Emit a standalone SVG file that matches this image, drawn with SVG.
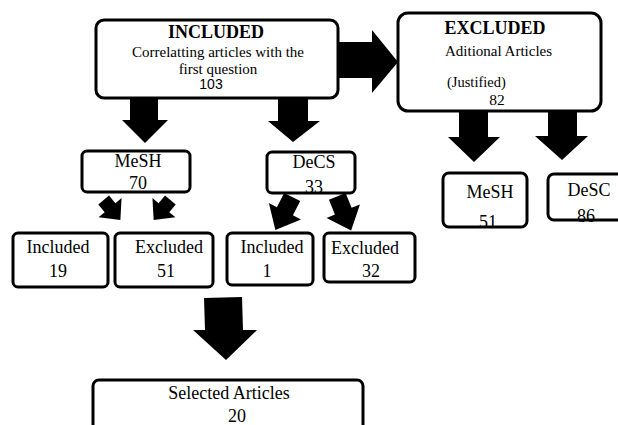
<svg xmlns="http://www.w3.org/2000/svg" width="618" height="425" viewBox="0 0 618 425">
<style>
.bg{fill:#fff;stroke:none}
.fr{fill:none;stroke:#000;stroke-width:3}
.t{font-family:"Liberation Serif","Times New Roman",serif;fill:#000;text-anchor:middle}
.st{text-anchor:start}
.s{font-family:"Liberation Sans",Arial,sans-serif;fill:#000;text-anchor:middle}
.b{font-weight:bold}
.ar{fill:#000;stroke:none}
</style>
<rect width="618" height="425" fill="#fff"/>
<g id="connectors">
<polygon class="ar" points="130,98 158,98 158,120 168,120 145,143 122,120 130,120"/>
<polygon class="ar" points="278,98 308,98 308,121 320,121 293,142 268,121 278,121"/>
<polygon class="ar" points="338,42 372,42 372,30 398,62 372,93 372,78 338,78"/>
<polygon class="ar" points="459,110 488,110 488,137 500,137 474,162 448,137 459,137"/>
<polygon class="ar" points="548,110 577,110 577,136 588,136 562,160 535,136 548,136"/>
<polygon class="ar" points="204,298 242,297 243,330 257,330 226,360 193,330 205,330"/>
<polygon class="ar" transform="translate(112,210) rotate(-40)" points="-7,-13 7,-13 7,-3 15,-3 0,13 -15,-3 -7,-3"/>
<polygon class="ar" transform="translate(162,210) rotate(40)" points="-7,-13 7,-13 7,-3 15,-3 0,13 -15,-3 -7,-3"/>
<polygon class="ar" transform="translate(284,213) rotate(27)" points="-9,-18 9,-18 9,-2 18,-2 0,19 -18,-2 -9,-2"/>
<polygon class="ar" transform="translate(344,213) rotate(-22)" points="-9,-18 9,-18 9,-2 18,-2 0,19 -18,-2 -9,-2"/>
</g>
<g id="included">
<rect class="bg" x="96" y="20" width="242" height="78" rx="8"/>
<text class="t b" x="216" y="38" font-size="18">INCLUDED</text>
<text class="t" x="218" y="57" font-size="15">Correlatting articles with the</text>
<text class="t" x="218" y="74" font-size="15">first question</text>
<text class="s" x="211" y="89" font-size="14">103</text>
<rect class="fr" x="96" y="20" width="242" height="78" rx="8"/>
</g>
<g id="excluded">
<rect class="bg" x="398" y="13" width="203" height="98" rx="10"/>
<text class="t b" x="495" y="34" font-size="18">EXCLUDED</text>
<text class="t st" x="445" y="56" font-size="15">Aditional Articles</text>
<text class="t st" x="447" y="87" font-size="14.5">(Justified)</text>
<text class="t" x="497" y="105" font-size="15.5">82</text>
<rect class="fr" x="398" y="13" width="203" height="98" rx="10"/>
</g>
<g id="mesh1">
<rect class="bg" x="82" y="151" width="108" height="41" rx="5"/>
<text class="t" x="138" y="167" font-size="18">MeSH</text>
<text class="t" x="138" y="189" font-size="18">70</text>
<rect class="fr" x="82" y="151" width="108" height="41" rx="5"/>
</g>
<g id="decs1">
<rect class="bg" x="267" y="152" width="88" height="41" rx="5"/>
<text class="t" x="314" y="168" font-size="18">DeCS</text>
<text class="t" x="314" y="193" font-size="18">33</text>
<rect class="fr" x="267" y="152" width="88" height="41" rx="5"/>
</g>
<g id="mesh2">
<rect class="bg" x="443" y="173" width="84" height="54" rx="6"/>
<text class="t" x="490" y="198" font-size="18">MeSH</text>
<text class="t" x="488" y="228" font-size="18">51</text>
<rect class="fr" x="443" y="173" width="84" height="54" rx="6"/>
</g>
<g id="desc2">
<rect class="bg" x="548" y="174" width="80" height="46" rx="6"/>
<text class="t" x="589" y="196" font-size="18">DeSC</text>
<text class="t" x="586" y="222" font-size="18">86</text>
<rect class="fr" x="548" y="174" width="80" height="46" rx="6"/>
</g>
<g id="inc19">
<rect class="bg" x="13" y="233" width="95" height="54" rx="5"/>
<text class="t" x="58" y="253" font-size="18">Included</text>
<text class="t" x="58" y="277" font-size="18">19</text>
<rect class="fr" x="13" y="233" width="95" height="54" rx="5"/>
</g>
<g id="exc51">
<rect class="bg" x="115" y="233" width="98" height="54" rx="5"/>
<text class="t" x="169" y="253" font-size="18">Excluded</text>
<text class="t" x="166" y="277" font-size="18">51</text>
<rect class="fr" x="115" y="233" width="98" height="54" rx="5"/>
</g>
<g id="inc1">
<rect class="bg" x="227" y="233" width="86" height="52" rx="5"/>
<text class="t" x="272" y="253" font-size="18">Included</text>
<text class="t" x="267" y="277" font-size="18">1</text>
<rect class="fr" x="227" y="233" width="86" height="52" rx="5"/>
</g>
<g id="exc32">
<rect class="bg" x="324" y="233" width="91" height="49" rx="5"/>
<text class="t" x="365" y="254" font-size="18">Excluded</text>
<text class="t" x="371" y="277" font-size="18">32</text>
<rect class="fr" x="324" y="233" width="91" height="49" rx="5"/>
</g>
<g id="selected">
<rect class="bg" x="93" y="380" width="270" height="60" rx="6"/>
<text class="t" x="229" y="399" font-size="18">Selected Articles</text>
<text class="t" x="237" y="422" font-size="18">20</text>
<rect class="fr" x="93" y="380" width="270" height="60" rx="6"/>
</g>
</svg>
